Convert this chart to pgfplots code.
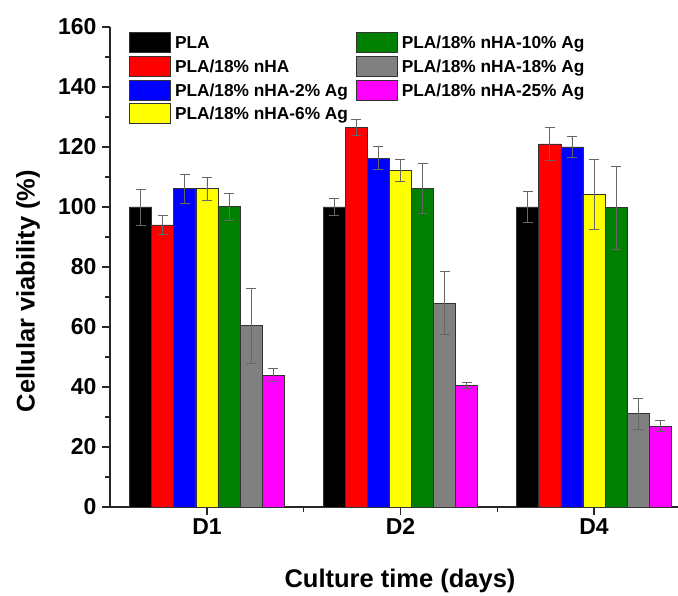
\documentclass[border=0pt]{standalone}
\usepackage{fontspec}
\setmainfont{Liberation Sans}
\usepackage{pgfplots}
\pgfplotsset{compat=1.18}
\definecolor{cgreen}{RGB}{0,128,0}
\definecolor{cgray}{RGB}{128,128,128}
\definecolor{cmag}{RGB}{255,0,255}
\definecolor{cred}{RGB}{255,0,0}
\definecolor{cblue}{RGB}{0,0,255}
\definecolor{cyel}{RGB}{255,255,0}
\begin{document}
\begin{tikzpicture}
\path[use as bounding box] (-110pt,-88pt) rectangle (568pt,507pt);
\begin{axis}[
  at={(0pt,0pt)}, anchor=south west,
  scale only axis, width=568pt, height=480pt,
  xmin=-0.501, xmax=2.434, ymin=0, ymax=160,
  axis x line*=bottom, axis y line*=left,
  axis line style={line width=1.4pt, black!85},
  tick align=outside,
  ytick={0,20,...,160}, minor y tick num=1,
  xtick={0,1,2}, xticklabels={D1,D2,D4}, minor x tick num=1,
  major tick length=8pt, minor tick length=5pt,
  every tick/.style={line width=1.2pt, black!85},
  /pgf/number format/assume math mode=true,
  ticklabel style={font=\bfseries\fontsize{23}{23}\selectfont},
  yticklabel style={xshift=-2pt},
  label style={font=\bfseries\fontsize{25.5}{25.5}\selectfont},
  xlabel={Culture time (days)},
  ylabel={Cellular viability (\%)},
  xlabel style={at={(axis description cs:0.5106,0)}, anchor=base, yshift=-80pt},
  ylabel style={at={(axis description cs:-0.1444,0.45)}, anchor=center},
  legend image code/.code={\draw[#1, line width=0.8pt] (0pt,-3.8pt) rectangle (41pt,16.2pt);},
  legend columns=2,
  legend style={draw=none, fill=none, inner sep=0pt, row sep=0pt, column sep=0pt,
    at={(rel axis cs:0.0335,0.9896)}, anchor=north west,
    font=\bfseries\fontsize{17.3}{17.3}\selectfont,
    cells={anchor=base west},
    nodes={text height=12.5pt, text depth=3.7pt, inner ysep=3.4pt},
    /tikz/column 1/.style={column sep=2pt},
    /tikz/column 2/.style={column sep=6pt},
    /tikz/column 3/.style={column sep=2pt}},
  error bars/error bar style={line width=0.9pt, black!60},
  error bars/error mark options={rotate=90, mark size=5pt, line width=0.9pt, black!60},
  every axis plot/.append style={ybar, bar width=0.114, bar shift=0, draw=black!80, line width=0.8pt},
]
% series plotted at group position + offset (offsets -0.342 ... 0.342)
\addplot[fill=black, forget plot, error bars/.cd, y dir=both, y explicit]
  coordinates {(-0.342,100) +- (0,6.0) (0.658,100) +- (0,2.8) (1.658,100) +- (0,5.3)};
\addplot[fill=cred, forget plot, error bars/.cd, y dir=both, y explicit]
  coordinates {(-0.228,94) +- (0,3.3) (0.772,126.5) +- (0,2.8) (1.772,121) +- (0,5.5)};
\addplot[fill=cblue, forget plot, error bars/.cd, y dir=both, y explicit]
  coordinates {(-0.114,106.1) +- (0,4.9) (0.886,116.3) +- (0,3.9) (1.886,120) +- (0,3.6)};
\addplot[fill=cyel, forget plot, error bars/.cd, y dir=both, y explicit]
  coordinates {(0,106.1) +- (0,3.9) (1,112.1) +- (0,3.7) (2,104.2) +- (0,11.7)};
\addplot[fill=cgreen, forget plot, error bars/.cd, y dir=both, y explicit]
  coordinates {(0.114,100.1) +- (0,4.5) (1.114,106.2) +- (0,8.2) (2.114,99.8) +- (0,13.8)};
\addplot[fill=cgray, forget plot, error bars/.cd, y dir=both, y explicit]
  coordinates {(0.228,60.4) +- (0,12.5) (1.228,68) +- (0,10.5) (2.228,31.1) +- (0,5.2)};
\addplot[fill=cmag, forget plot, error bars/.cd, y dir=both, y explicit]
  coordinates {(0.342,44) +- (0,2.1) (1.342,40.5) +- (0,1.1) (2.342,27) +- (0,1.7)};
\addlegendimage{fill=black, draw=black!80}
\addlegendentry{PLA}
\addlegendimage{fill=cgreen, draw=black!80}
\addlegendentry{PLA/18\% nHA-10\% Ag}
\addlegendimage{fill=cred, draw=black!80}
\addlegendentry{PLA/18\% nHA}
\addlegendimage{fill=cgray, draw=black!80}
\addlegendentry{PLA/18\% nHA-18\% Ag}
\addlegendimage{fill=cblue, draw=black!80}
\addlegendentry{PLA/18\% nHA-2\% Ag}
\addlegendimage{fill=cmag, draw=black!80}
\addlegendentry{PLA/18\% nHA-25\% Ag}
\addlegendimage{fill=cyel, draw=black!80}
\addlegendentry{PLA/18\% nHA-6\% Ag}
\end{axis}
\end{tikzpicture}
\end{document}
